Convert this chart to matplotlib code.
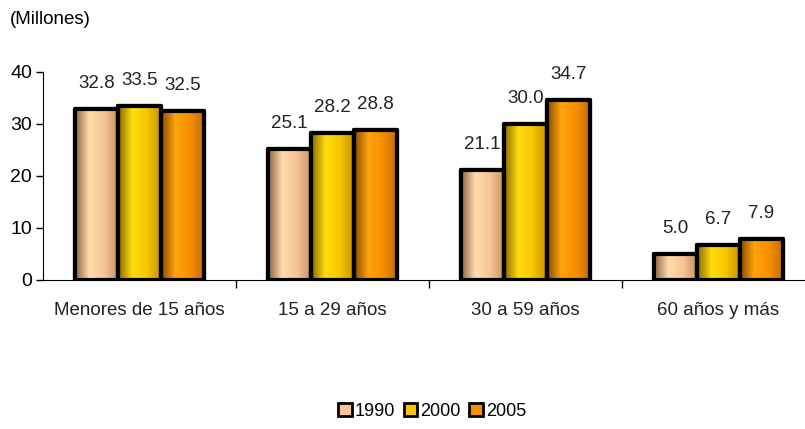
import numpy as np
import matplotlib.pyplot as plt
from matplotlib.colors import LinearSegmentedColormap, to_rgb
from matplotlib.patches import Patch

plt.rcParams['font.family'] = ['Liberation Sans', 'DejaVu Sans']

# Data
categories = ['Menores de 15 años', '15 a 29 años', '30 a 59 años', '60 años y más']
years = ['1990', '2000', '2005']
values = {
    '1990': [32.8, 25.1, 21.1, 5.0],
    '2000': [33.5, 28.2, 30.0, 6.7],
    '2005': [32.5, 28.8, 34.7, 7.9],
}
colors = {'1990': '#F9C596', '2000': '#F7C600', '2005': '#F79000'}


def shade_cmap(base):
    r, g, b = to_rgb(base)
    dark = (r * 0.55, g * 0.5, b * 0.45)
    light = tuple(min(1, c * 1.05 + 0.05) for c in (r, g, b))
    return LinearSegmentedColormap.from_list('s', [dark, light, (r, g, b), (r * 0.8, g * 0.75, b * 0.7)])


fig = plt.figure(figsize=(8.05, 4.29), dpi=100)
# axes run slightly past the right edge like the original
ax = fig.add_axes([43 / 805, 1 - 280 / 429, 772 / 805, 208 / 429])

x = np.arange(len(categories))
width = 0.222
grad = np.linspace(0, 1, 256).reshape(1, -1)

for i, yr in enumerate(years):
    pos = x + (i - 1) * width
    bars = ax.bar(pos, values[yr], width, color=colors[yr], edgecolor='black',
                  linewidth=3, joinstyle='round', zorder=3)
    for b, v in zip(bars, values[yr]):
        im = ax.imshow(grad, cmap=shade_cmap(colors[yr]), aspect='auto',
                       extent=[b.get_x(), b.get_x() + b.get_width(), 0, v], zorder=3)
        im.set_clip_path(b)
        ax.text(b.get_x() + b.get_width() / 2, v + 4.9, f'{v:.1f}', ha='center',
                va='center', fontsize=13.5, color='#222222')
    # redraw outlines on top of gradients
    ax.bar(pos, values[yr], width, fill=False, edgecolor='black', linewidth=3,
           joinstyle='round', zorder=4)

ax.set_xlim(-0.5, 3.5)
ax.set_ylim(0, 40)
ax.set_yticks([0, 10, 20, 30, 40])
ax.tick_params(axis='y', labelsize=14, length=5, width=1, pad=3)
ax.set_xticks([0.5, 1.5, 2.5])
ax.set_xticklabels([])
ax.tick_params(axis='x', length=6, width=1)
for i, c in enumerate(categories):
    ax.text(i, -4.3, c, ha='center', va='top', fontsize=13.5, color='#222222')

for s in ['top', 'right']:
    ax.spines[s].set_visible(False)

fig.text(10 / 805, 1 - 20 / 429, '(Millones)', fontsize=13.5, va='center', ha='left')

handles = [Patch(facecolor=colors[yr], edgecolor='black', linewidth=2, label=yr) for yr in years]
fig.legend(handles=handles, loc='center', bbox_to_anchor=(432 / 805, 1 - 411 / 429), ncol=3,
           frameon=False, fontsize=13, handlelength=0.75, handleheight=0.75,
           handletextpad=0.15, columnspacing=0.5)

fig.savefig('out.png', dpi=100)
